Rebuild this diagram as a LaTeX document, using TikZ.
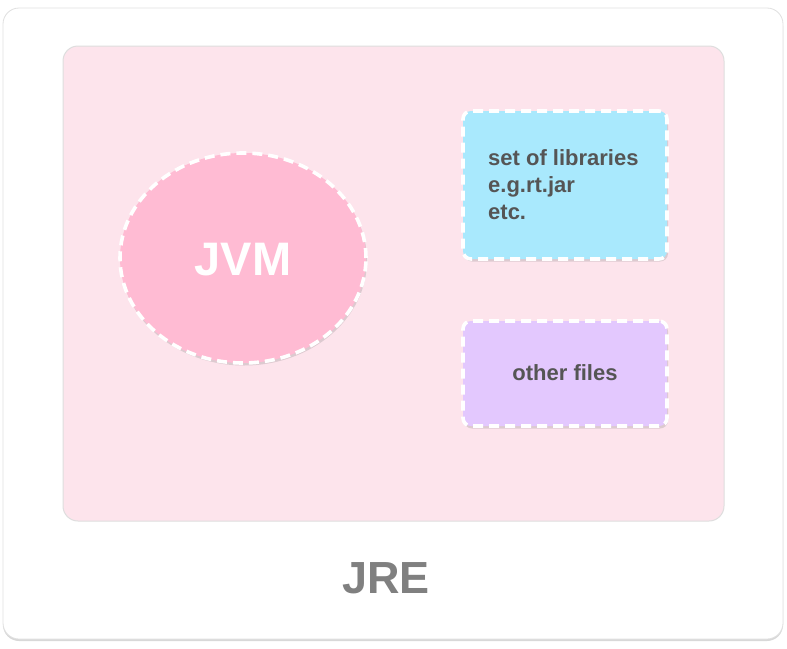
\documentclass[tikz,border=0pt]{standalone}
\usepackage{fontspec}
\setmainfont{Liberation Sans}
\usetikzlibrary{shadows,shapes.geometric}
\definecolor{innerpink}{HTML}{FDE4EC}
\definecolor{jvmpink}{HTML}{FFBBD3}
\definecolor{libblue}{HTML}{A9E9FD}
\definecolor{filepurple}{HTML}{E3C8FE}
\definecolor{txtgray}{HTML}{555555}
\definecolor{jregray}{HTML}{808080}
\tikzset{
  whitedash/.style={draw=white, line width=3.6pt, dash pattern=on 10pt off 6pt},
  softshadow/.style={drop shadow={opacity=0.25, shadow xshift=1pt, shadow yshift=-2.5pt}},
  filebox/.style={rectangle, rounded corners=8pt, whitedash, softshadow, minimum width=204pt, inner sep=0pt},
  boxtext/.style={text=txtgray, font=\fontsize{22}{27}\selectfont\bfseries}
}
\begin{document}
\begin{tikzpicture}[x=1pt,y=-1pt]
\useasboundingbox (0,0) rectangle (787,648);
\fill[white] (0,0) rectangle (787,648);
% outer card
\path[fill=white, draw=black!12, line width=0.8pt, rounded corners=16pt,
  drop shadow={opacity=0.3, shadow xshift=0pt, shadow yshift=-2pt}]
  (3,8) rectangle (783,639);
% inner panel
\path[fill=innerpink, draw=black!13, line width=1pt, rounded corners=15pt]
  (63,46) rectangle (724,521);
% JVM ellipse
\node (jvm) [ellipse, fill=jvmpink, whitedash, softshadow, minimum width=246pt, minimum height=210pt, inner sep=0pt] at (243,258) {};
\node (jvmtext) [text=white, font=\fontsize{47}{47}\selectfont\bfseries] at (243,260) {JVM};
% libraries box
\node (libs) [filebox, fill=libblue, minimum height=148pt] at (565,185) {};
\node (libstext) [boxtext, align=left, anchor=north west, inner sep=0pt] at (488,149)
  {set of libraries\\e.g.rt.jar\\etc.};
% other files box
\node (other) [filebox, fill=filepurple, minimum height=105pt] at (565,373.5) {};
\node (othertext) [boxtext] at (565,373) {other files};
% JRE label
\node (jrelbl) [text=jregray, font=\fontsize{45}{45}\selectfont\bfseries] at (386,578) {JRE};
\end{tikzpicture}
\end{document}
